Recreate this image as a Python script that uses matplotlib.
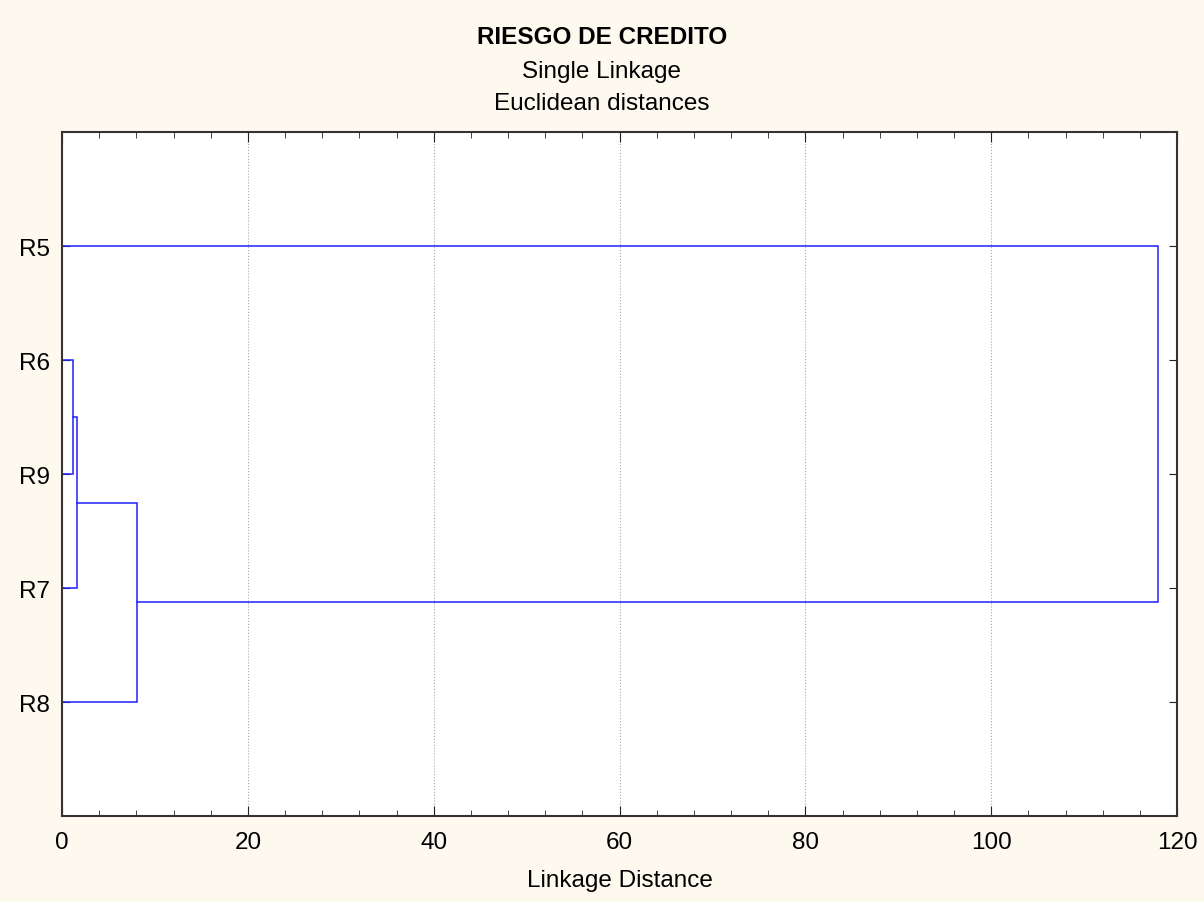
import matplotlib.pyplot as plt
from matplotlib.ticker import MultipleLocator

plt.rcParams['font.family'] = ['Liberation Sans', 'DejaVu Sans']

# hojas de arriba hacia abajo
leaves = ['R5', 'R6', 'R9', 'R7', 'R8']
# (cluster a, cluster b, distancia de union)
merges = [
    ('R6', 'R9', 1.2),
    ('R6+R9', 'R7', 1.65),
    ('R6+R9+R7', 'R8', 8.1),
    ('R6+R9+R7+R8', 'R5', 117.9),
]
x_ticks = [0, 20, 40, 60, 80, 100, 120]

fig = plt.figure(figsize=(12.04, 9.03), dpi=100, facecolor='#fef9ee')
ax = fig.add_axes([0.0515, 0.0952, 0.9261, 0.7575])
ax.set_facecolor('white')

# posicion (y, altura) de cada cluster
pos = {name: (i + 1, 0.0) for i, name in enumerate(leaves)}
for a, b, d in merges:
    ya, ha = pos[a]
    yb, hb = pos[b]
    ax.plot([ha, d, d, hb], [ya, ya, yb, yb], color='#2020ff', lw=1.1, solid_joinstyle='miter')
    pos[a + '+' + b] = ((ya + yb) / 2, d)

ax.set_xlim(0, 120)
ax.set_ylim(len(leaves) + 1, 0)
ax.set_xticks(x_ticks)
ax.xaxis.set_minor_locator(MultipleLocator(4))
ax.set_yticks(range(1, len(leaves) + 1))
ax.set_yticklabels(leaves)
ax.tick_params(axis='both', which='both', direction='in', top=True, right=True,
               labelsize=17.5, colors='#222222', labelcolor='black')
ax.tick_params(axis='x', which='major', length=7, pad=11)
ax.tick_params(axis='x', which='minor', length=4)
ax.tick_params(axis='y', which='major', length=6, pad=9)
ax.grid(axis='x', which='major', color='#aaaaaa', linestyle=':', lw=0.8)
for s in ax.spines.values():
    s.set_color('#333333')
    s.set_linewidth(1.5)

ax.set_xlabel('Linkage Distance', fontsize=17.5, labelpad=11)
fig.text(0.5, 0.958, 'RIESGO DE CREDITO', ha='center', va='center', fontsize=17.5, fontweight='bold')
fig.text(0.5, 0.920, 'Single Linkage', ha='center', va='center', fontsize=17.5)
fig.text(0.5, 0.885, 'Euclidean distances', ha='center', va='center', fontsize=17.5)

fig.savefig('out.png', dpi=100, facecolor=fig.get_facecolor())
